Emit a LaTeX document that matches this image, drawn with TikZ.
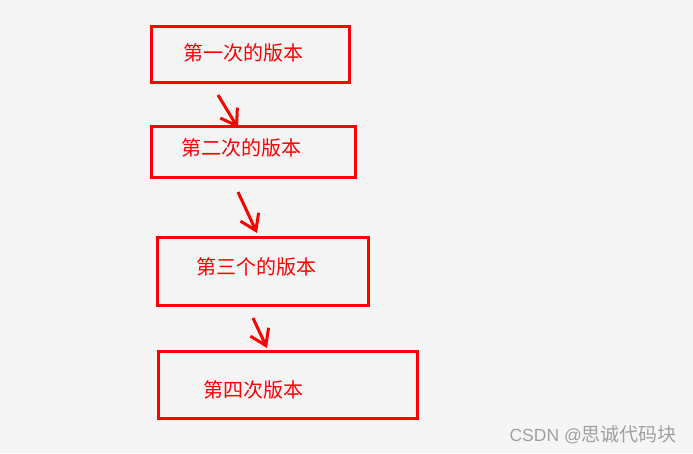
\documentclass[tikz,border=0pt]{standalone}
\usepackage{fontspec}
\setmainfont{Noto Sans CJK SC}
\newfontfamily\latinwm{Liberation Sans}
\usetikzlibrary{arrows.meta}
\definecolor{bg}{HTML}{F5F5F5}
\definecolor{wm}{HTML}{A0A0A0}
\tikzset{
  verbox/.style={draw=red, line width=3pt, inner sep=0pt},
  vertext/.style={text=red, font=\fontsize{20}{22}\selectfont, inner sep=0pt},
  verarrow/.style={draw=red, line width=3pt, -{Straight Barb[length=15pt,width=20pt,line width=3pt]}},
}
\begin{document}
\begin{tikzpicture}[x=1pt,y=-1pt]
\fill[bg] (0,0) rectangle (693,453);
\useasboundingbox (0,0) rectangle (693,453);
\node[verbox, minimum width=198pt, minimum height=56pt] (b1) at (250,54) {};
\node[verbox, minimum width=204pt, minimum height=51pt] (b2) at (253,151.5) {};
\node[verbox, minimum width=211pt, minimum height=68pt] (b3) at (262.5,271) {};
\node[verbox, minimum width=259pt, minimum height=67pt] (b4) at (287.5,384.5) {};
\node[vertext] (t1) at (243,53) {第一次的版本};
\node[vertext] (t2) at (241,148) {第二次的版本};
\node[vertext] (t3) at (256,267) {第三个的版本};
\node[vertext] (t4) at (253,390) {第四次版本};
\coordinate (a1s) at (218,95);  \coordinate (a1e) at (238,128);
\coordinate (a2s) at (238,192); \coordinate (a2e) at (257,233);
\coordinate (a3s) at (253,318); \coordinate (a3e) at (267,348);
\draw[verarrow] (a1s) -- (a1e);
\draw[verarrow] (a2s) -- (a2e);
\draw[verarrow] (a3s) -- (a3e);
\node[text=wm, inner sep=0pt, anchor=east] (wmk) at (677,435) {{\latinwm\fontsize{17.5}{19}\selectfont CSDN @}{\fontsize{19}{21}\selectfont 思诚代码块}};
\end{tikzpicture}
\end{document}
